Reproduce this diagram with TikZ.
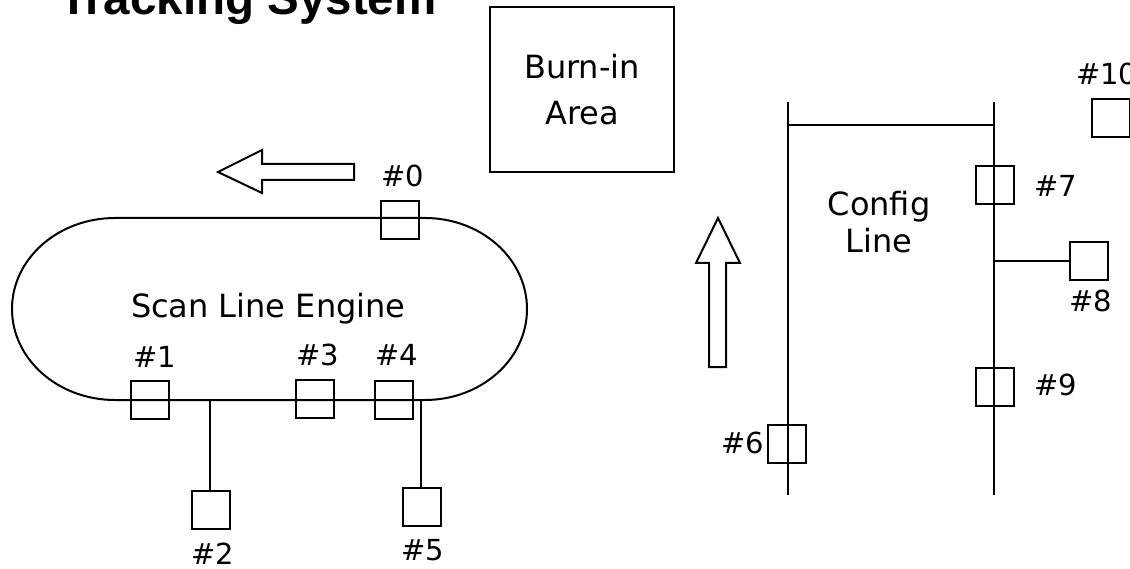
\documentclass[tikz,border=0pt]{standalone}
\usepackage{fontspec}
\setmainfont{DejaVu Sans}
\newfontfamily\titlefont{Liberation Sans}
\begin{document}
\begin{tikzpicture}[x=1pt,y=1pt,
  line width=2pt, line join=miter,
  station/.style={draw, rectangle, minimum width=38pt, minimum height=38pt, inner sep=0pt},
  txt/.style={inner sep=0pt, font=\fontsize{32}{38}\selectfont},
  lbl/.style={inner sep=0pt, anchor=base west, font=\fontsize{29}{34}\selectfont},
  blockarrow/.style={draw, line width=2pt, fill=white}
]
\useasboundingbox (0,-569) rectangle (1130,0);
\fill[white] (0,-569) rectangle (1130,0);

% title
\node[inner sep=0pt, anchor=base west, font=\titlefont\bfseries\fontsize{47.5}{55}\selectfont] (title) at (58,-15) {Tracking System};

% burn-in area
\node[draw, rectangle, minimum width=184pt, minimum height=165pt, inner sep=0pt] (burn) at (582,-89.5) {};
\node[txt, anchor=base] (burn1) at (582,-79) {Burn-in};
\node[txt, anchor=base] (burn2) at (582,-125) {Area};

% scan line engine loop
\coordinate (tl) at (115,-218);
\coordinate (tr) at (425,-218);
\coordinate (br) at (425,-400);
\coordinate (bl) at (115,-400);
\draw (tl) -- (tr) arc[start angle=90, end angle=-90, x radius=102, y radius=91]
      -- (bl) arc[start angle=270, end angle=90, x radius=103, y radius=91] -- cycle;
\node[txt, anchor=base west] (scan) at (130,-318) {Scan Line Engine};

% stations on the loop
\node[station] (s0) at (400,-220) {};
\node[station] (s1) at (150,-400) {};
\node[station] (s3) at (315,-399) {};
\node[station] (s4) at (394,-400) {};
\node[station] (s2) at (211,-510) {};
\node[station] (s5) at (422,-507) {};
\coordinate (j2) at (210,-400);
\coordinate (j5) at (421,-400);
\draw (j2) -- (j2 |- s2.north);
\draw (j5) -- (j5 |- s5.north);

\node[lbl] (l0) at (380,-187) {\#0};
\node[lbl] (l1) at (132,-367) {\#1};
\node[lbl] (l2) at (190,-564) {\#2};
\node[lbl] (l3) at (295,-365) {\#3};
\node[lbl] (l4) at (374,-365) {\#4};
\node[lbl] (l5) at (400,-560) {\#5};

% block arrows
\draw[blockarrow] (218,-172) -- (262,-150) -- (262,-164) -- (354,-164) -- (354,-180)
   -- (262,-180) -- (262,-193) -- cycle;
\draw[blockarrow] (718,-218) -- (740,-263) -- (726,-263) -- (726,-367) -- (709,-367)
   -- (709,-263) -- (696,-263) -- cycle;

% config line
\coordinate (ct) at (788,-102);
\coordinate (cb) at (788,-495);
\coordinate (dt) at (994,-102);
\coordinate (db) at (994,-495);
\coordinate (ch1) at (788,-125);
\coordinate (ch2) at (994,-125);
\draw (ct) -- (cb);
\draw (dt) -- (db);
\draw (ch1) -- (ch2);
\node[txt, anchor=base] (cfg1) at (879,-216) {Config};
\node[txt, anchor=base] (cfg2) at (879,-253) {Line};

\node[station] (s6) at (787,-444) {};
\node[station] (s7) at (995,-185) {};
\node[station] (s9) at (995,-387) {};
\node[station] (s8) at (1089,-261) {};
\node[station] (s10) at (1111,-118) {};
\coordinate (j8) at (994,-261);
\draw (j8) -- (s8.west);

\node[lbl] (l6) at (720,-453) {\#6};
\node[lbl] (l7) at (1033,-197) {\#7};
\node[lbl] (l8) at (1068,-312) {\#8};
\node[lbl] (l9) at (1033,-395) {\#9};
\node[lbl] (l10) at (1075,-85) {\#10};
\end{tikzpicture}
\end{document}
